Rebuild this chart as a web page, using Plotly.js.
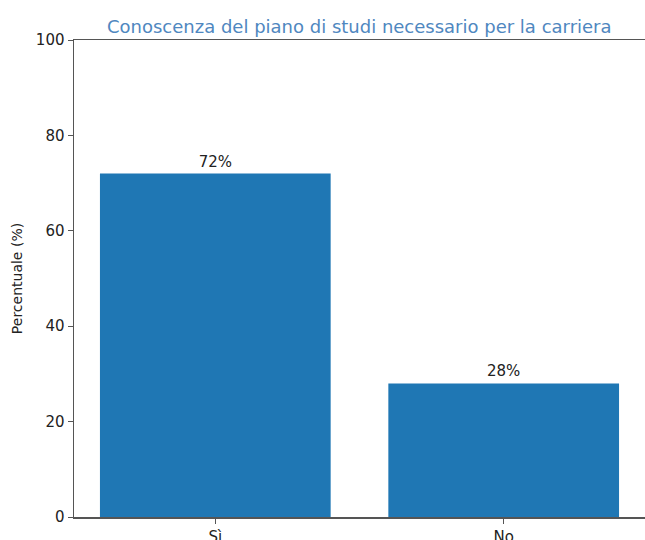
<!DOCTYPE html>
<html><head><meta charset="utf-8">
<script src="https://cdn.plot.ly/plotly-3.0.1.min.js"></script>
<style>html,body{margin:0;padding:0;background:#fff}#chart{width:645px;height:540px}</style>
</head><body><div id="chart"></div>
<script>
const categories = ["Sì", "No"];
const values = [72, 28];
const labels = ["72%", "28%"];
const yTicks = [0, 20, 40, 60, 80, 100];

const trace = {
  type: 'bar',
  x: [0, 1],
  y: values,
  width: 0.8,
  text: labels,
  textposition: 'outside',
  cliponaxis: false,
  textfont: {family: 'DejaVu Sans', size: 15, color: '#222'},
  marker: {color: '#1f77b4', line: {width: 0}},
  hoverinfo: 'none'
};
const layout = {
  width: 645, height: 540,
  margin: {l: 74, r: 0, t: 40, b: 23},
  paper_bgcolor: '#fff', plot_bgcolor: '#fff',
  font: {family: 'DejaVu Sans', size: 15, color: '#222'},
  showlegend: false,
  title: {text: 'Conoscenza del piano di studi necessario per la carriera',
          font: {family: 'DejaVu Sans', size: 18, color: '#4f87c0'},
          x: 0.557, xanchor: 'center', y: 0.95, yanchor: 'middle'},
  xaxis: {range: [-0.49, 1.49], tickvals: [0, 1], ticktext: categories,
          showline: true, linecolor: '#555', linewidth: 1.5, mirror: true,
          ticks: 'outside', ticklen: 5, tickcolor: '#555', showgrid: false, zeroline: false,
          fixedrange: true},
  yaxis: {range: [0, 100], tickvals: yTicks,
          showline: true, linecolor: '#555', linewidth: 1.5, mirror: true,
          ticks: 'outside', ticklen: 5, tickcolor: '#555', showgrid: false, zeroline: false,
          title: {text: 'Percentuale (%)', font: {family: 'DejaVu Sans', size: 14, color: '#222'}, standoff: 10}},
  bargap: 0.2
};
Plotly.newPlot('chart', [trace], layout, {displayModeBar: false, staticPlot: true});
</script></body></html>
